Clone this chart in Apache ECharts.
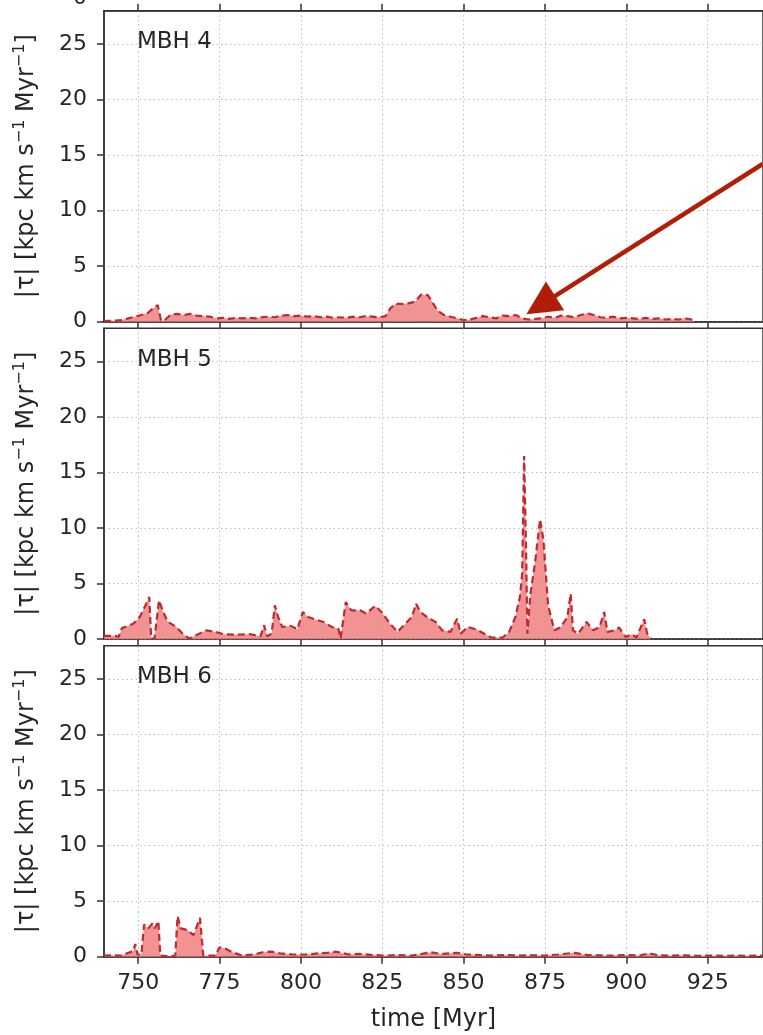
<!DOCTYPE html>
<html><head><meta charset="utf-8">
<script src="https://cdn.jsdelivr.net/npm/echarts@6/dist/echarts.min.js"></script>
<style>html,body{margin:0;padding:0;background:#fff}#c{width:763px;height:1035px}</style>
</head><body><div id="c"></div>
<script>
// ---- data ----
const xTicks = [750, 775, 800, 825, 850, 875, 900, 925];
const yTicks = [0, 5, 10, 15, 20, 25];
const panelLabels = ['MBH 4', 'MBH 5', 'MBH 6'];
const xName = 'time [Myr]';
const yName = '|τ| [kpc km s{sup|−1} Myr{sup|−1}]';

const t4 = [739.5,741,743,745,747,749,751,753,755,756,757,758,760,762,764,766,768,770,772,774,776,778,780,782,784,786,788,790,792,794,796,798,800,802,804,806,808,810,812,814,816,818,820,822,824,826,827.5,829,831,833,835,837,839,840.5,842,844,846,848,850,852,854,856,858,860,862,864,866,868,870,872,874,876,878,880,882,884,886,888,890,892,894,896,898,900,902,904,906,908,910,912,914,916,918,920,921];
const v4 = [0.05,0.08,0.1,0.15,0.3,0.45,0.6,0.8,1.3,1.5,0.15,0.1,0.65,0.7,0.6,0.7,0.55,0.5,0.45,0.3,0.35,0.25,0.35,0.3,0.35,0.3,0.4,0.45,0.4,0.55,0.6,0.5,0.55,0.45,0.5,0.4,0.45,0.35,0.4,0.35,0.45,0.4,0.5,0.45,0.4,0.5,1.2,1.6,1.6,1.65,1.8,2.45,2.4,1.7,1.0,0.6,0.45,0.3,0.15,0.2,0.35,0.5,0.4,0.3,0.55,0.5,0.6,0.3,0.2,0.25,0.3,0.45,0.35,0.55,0.5,0.4,0.6,0.75,0.6,0.4,0.35,0.45,0.3,0.35,0.3,0.25,0.35,0.25,0.3,0.2,0.25,0.2,0.3,0.2,0];

const t5 = [739.5,741,743,744,745,747,748.5,750.5,752.5,753.4,754,755,756.4,757.5,759,761.7,763.7,765.7,768.4,771,773.7,776.3,780.3,784.3,787.6,788.7,789.6,791,792,793,794.3,796.9,798.9,800.6,802.2,804.2,806.9,809.5,811.5,812.2,813.8,815.5,818.2,820.1,822.8,824.8,827.4,829.7,832.1,834.1,835.4,836.7,838.7,841.4,843.4,846,848,849.1,851.3,854,856.6,858.6,862,864,865.9,867.3,868,868.6,869.2,869.6,870.5,872,873.5,874.5,876,877.9,879.9,881.9,882.9,883.6,885.2,887.8,889.8,891.8,893.2,894.2,896.5,897.8,899.8,901.8,903.1,905.5,906.4,907.7];
const v5 = [0.3,0.3,0.3,0.2,1.0,1.2,1.4,2.0,3.2,3.8,0.05,0.05,3.5,2.6,1.6,1.1,0.5,0.06,0.45,0.8,0.66,0.45,0.4,0.45,0.27,1.26,0.27,0.5,3.05,2.0,1.1,1.2,0.9,2.45,2.0,1.8,1.55,1.1,0.96,0.06,3.35,2.6,2.6,2.3,3.0,2.45,1.4,0.66,1.4,2.0,3.2,2.45,2.0,1.55,0.8,0.66,1.85,0.5,1.1,0.87,0.45,0.15,0.15,0.66,2.0,3.8,5.9,16.5,8.0,0.5,4.0,7.0,10.8,9.0,3.0,0.8,1.1,2.0,4.1,0.8,0.5,1.55,0.8,1.1,2.45,0.66,0.8,1.05,0.2,0.45,0.15,1.8,0.5,0];

const t6 = [739.5,742,745,746.5,748.5,749.1,749.8,751,751.8,753.1,754.4,755.1,756.2,756.8,758.4,760,761.4,762.1,763.1,765.1,767,769,770,773.7,775,777,779,781.7,785.6,788.3,791,793.6,797.6,801.6,805.5,808,810.9,814.8,818,822,826,830,834,838,840,843,846,848,851,855,859,863,867,871,875,879,884,888,892,896,900,904,907,910,914,918,922,926,930,934,938,942];
const v6 = [0.1,0.12,0.1,0.3,0.5,1.15,0.2,0.2,2.9,2.55,3.0,2.55,3.2,0.1,0.05,0.05,0.1,3.65,2.55,2.4,1.95,3.5,0.1,0.1,0.85,0.7,0.4,0.12,0.2,0.4,0.45,0.3,0.2,0.2,0.3,0.35,0.45,0.2,0.25,0.15,0.1,0.15,0.1,0.3,0.4,0.25,0.3,0.35,0.2,0.15,0.1,0.15,0.1,0.12,0.1,0.2,0.35,0.15,0.12,0.1,0.15,0.1,0.3,0.12,0.1,0.12,0.08,0.1,0.08,0.1,0.08,0.1];

const arrowFrom = [941.9, 14.2];
const arrowTo = [873.7, 1.5];

// ---- layout / style ----
const X_MIN = 739.5, X_MAX = 942, Y_MIN = 0, Y_MAX = 28;
const tops = [10.7, 328.2, 645.7];
const H = 311;
const FONT = 'DejaVu Sans';
const txt = '#262626';
const spine = '#333333';
const gridLine = { show: true, lineStyle: { type: [1.5, 3], color: '#bdbdbd', width: 1 } };
const spineLine = { show: true, lineStyle: { color: spine, width: 1.5 } };

const series = [[t4, v4], [t5, v5], [t6, v6]];

const grids = tops.map(t => ({
  left: 104, right: -3, top: t, height: H,
  show: true, borderColor: spine, borderWidth: 1.5, backgroundColor: 'transparent'
}));

const xAxes = tops.map((t, i) => ({
  type: 'value', gridIndex: i, min: X_MIN, max: X_MAX,
  name: i === 2 ? xName : '', nameLocation: 'middle', nameGap: 51,
  nameTextStyle: { fontFamily: FONT, fontSize: 24, color: txt },
  axisLine: spineLine,
  axisTick: { show: true, customValues: xTicks, length: 7, lineStyle: { color: spine, width: 1.5 } },
  axisLabel: { show: i === 2, customValues: xTicks, margin: 16, fontFamily: FONT, fontSize: 22, color: txt },
  splitLine: gridLine
}));
// ticks along the top edge of the first panel
xAxes.push({
  type: 'value', gridIndex: 0, position: 'top', min: X_MIN, max: X_MAX,
  axisLine: spineLine,
  axisTick: { show: true, customValues: xTicks, length: 7, lineStyle: { color: spine, width: 1.5 } },
  axisLabel: { show: false },
  splitLine: { show: false }
});

const yAxes = tops.map((t, i) => ({
  type: 'value', gridIndex: i, min: Y_MIN, max: Y_MAX,
  name: yName, nameLocation: 'middle', nameRotate: 90, nameGap: 62,
  nameTextStyle: {
    fontFamily: FONT, fontSize: 24, color: txt,
    rich: { sup: { fontFamily: FONT, fontSize: 16, color: txt, verticalAlign: 'top', lineHeight: 30 } }
  },
  axisLine: spineLine,
  axisTick: { show: true, customValues: yTicks, length: 7, lineStyle: { color: spine, width: 1.5 } },
  axisLabel: { customValues: yTicks, margin: 17, fontFamily: FONT, fontSize: 22, color: txt },
  splitLine: gridLine
}));

const seriesOpts = series.map(([ts, vs], i) => {
  const s = {
    type: 'line', xAxisIndex: i, yAxisIndex: i,
    data: ts.map((t, k) => [t, vs[k]]),
    showSymbol: false, symbol: 'none',
    lineStyle: { color: '#bf2a30', width: 2.2, type: [7, 4] },
    areaStyle: { color: '#f08080', opacity: 0.85 },
    z: 3
  };
  if (i === 0) {
    s.markLine = {
      silent: true, animation: false,
      symbol: ['none', 'triangle'], symbolSize: 34,
      label: { show: false },
      lineStyle: { color: '#b01e08', width: 4.5, type: 'solid', opacity: 1 },
      itemStyle: { color: '#b01e08' },
      emphasis: { disabled: true },
      data: [[{ coord: arrowFrom }, { coord: arrowTo }]]
    };
  }
  return s;
});

const chart = echarts.init(document.getElementById('c'), null, { renderer: 'canvas' });
chart.setOption({
  animation: false,
  backgroundColor: '#ffffff',
  title: panelLabels.map((p, i) => ({
    text: p, left: 137, top: tops[i] + 20, padding: 0,
    textStyle: { fontFamily: FONT, fontSize: 23, fontWeight: 'normal', color: txt }
  })),
  grid: grids,
  xAxis: xAxes,
  yAxis: yAxes,
  series: seriesOpts,
  graphic: [{
    type: 'text', left: 73, top: -13,
    style: { text: '0', font: '22px "DejaVu Sans"', fill: txt }
  }]
});
</script>
</body></html>
